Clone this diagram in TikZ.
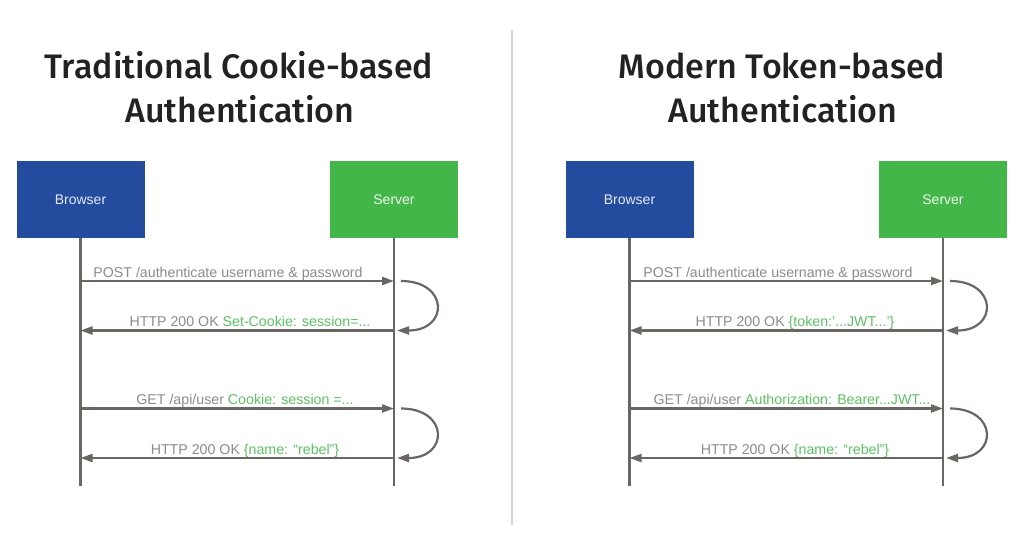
\documentclass[tikz,border=0pt]{standalone}
\usepackage{fontspec}
\setmainfont{Liberation Sans}
\newfontfamily\titlefont{Fira Sans Medium}
\usetikzlibrary{arrows.meta}
\definecolor{boxblue}{HTML}{234B9E}
\definecolor{boxgreen}{HTML}{43B649}
\definecolor{linegray}{HTML}{6A6662}
\definecolor{textgray}{HTML}{8C8C8C}
\definecolor{txtgreen}{HTML}{5CC262}
\definecolor{titleblack}{HTML}{222222}
\definecolor{divgray}{HTML}{D4D4D4}
\tikzset{
  actor/.style={minimum width=128pt,minimum height=77pt,inner sep=0pt,outer sep=0pt,font=\fontsize{14}{16}\selectfont},
  life/.style={line width=2.2pt,draw=linegray},
  msg/.style={line width=2.2pt,draw=linegray,-{Triangle[length=12pt,width=8pt]}},
  lbl/.style={text=textgray,font=\fontsize{14.2}{16}\selectfont,anchor=base,inner sep=0pt},
  ttl/.style={font=\titlefont\fontsize{34}{40}\selectfont,text=titleblack,anchor=base,inner sep=0pt}
}
\newcommand{\grn}[1]{\textcolor{txtgreen}{#1}}
\begin{document}
\begin{tikzpicture}[x=1pt,y=-1pt]
\useasboundingbox[fill=white] (0,0) rectangle (1024,536);
\draw[divgray,line width=2pt] (512,30) -- (512,525);
% rows of the messages
\coordinate (r1) at (0,281);
\coordinate (r2) at (0,330.5);
\coordinate (r3) at (0,408.5);
\coordinate (r4) at (0,458);
\coordinate (rend) at (0,486);

% cookie side
\node[ttl] (ltitle1) at (239,78) {Traditional Cookie-based};
\node[ttl] (ltitle2) at (240,122) {Authentication};
\node[actor,fill=boxblue,text=white!88!boxblue] (lbrowser) at (80.5,199.5) {Browser};
\node[actor,fill=boxgreen,text=white!92!boxgreen] (lserver) at (394,199.5) {Server};
\draw[life] (lbrowser.south) -- (lbrowser.south |- rend);
\draw[life] (lserver.south) -- (lserver.south |- rend);
\draw[msg] (lbrowser |- r1) -- (lserver |- r1);
\draw[msg] (lserver |- r2) -- (lbrowser |- r2);
\draw[msg] (lbrowser |- r3) -- (lserver |- r3);
\draw[msg] (lserver |- r4) -- (lbrowser |- r4);
\draw[msg] ([xshift=7pt]lserver |- r1) .. controls +(48,0) and +(52,0) .. ([xshift=3pt]lserver |- r2);
\draw[msg] ([xshift=7pt]lserver |- r3) .. controls +(48,0) and +(52,0) .. ([xshift=3pt]lserver |- r4);
\node[lbl] (lmsg1) at (228,277) {POST /authenticate username \& password};
\node[lbl] (lmsg2) at (250,326.5) {HTTP 200 OK \grn{Set-Cookie: session=...}};
\node[lbl] (lmsg3) at (245,404) {GET /api/user \grn{Cookie: session =...}};
\node[lbl] (lmsg4) at (245,454) {HTTP 200 OK \grn{\{name: “rebel”\}}};

% token side
\node[ttl] (rtitle1) at (782,78) {Modern Token-based};
\node[ttl] (rtitle2) at (783,122) {Authentication};
\node[actor,fill=boxblue,text=white!88!boxblue] (rbrowser) at (629.5,199.5) {Browser};
\node[actor,fill=boxgreen,text=white!92!boxgreen] (rserver) at (943,199.5) {Server};
\draw[life] (rbrowser.south) -- (rbrowser.south |- rend);
\draw[life] (rserver.south) -- (rserver.south |- rend);
\draw[msg] (rbrowser |- r1) -- (rserver |- r1);
\draw[msg] (rserver |- r2) -- (rbrowser |- r2);
\draw[msg] (rbrowser |- r3) -- (rserver |- r3);
\draw[msg] (rserver |- r4) -- (rbrowser |- r4);
\draw[msg] ([xshift=7pt]rserver |- r1) .. controls +(48,0) and +(52,0) .. ([xshift=3pt]rserver |- r2);
\draw[msg] ([xshift=7pt]rserver |- r3) .. controls +(48,0) and +(52,0) .. ([xshift=3pt]rserver |- r4);
\node[lbl] (rmsg1) at (778,277) {POST /authenticate username \& password};
\node[lbl] (rmsg2) at (795,326.5) {HTTP 200 OK \grn{\{token:’...JWT...’\}}};
\node[lbl] (rmsg3) at (792,404) {GET /api/user \grn{Authorization: Bearer...JWT...}};
\node[lbl] (rmsg4) at (795,454) {HTTP 200 OK \grn{\{name: “rebel”\}}};
\end{tikzpicture}
\end{document}
